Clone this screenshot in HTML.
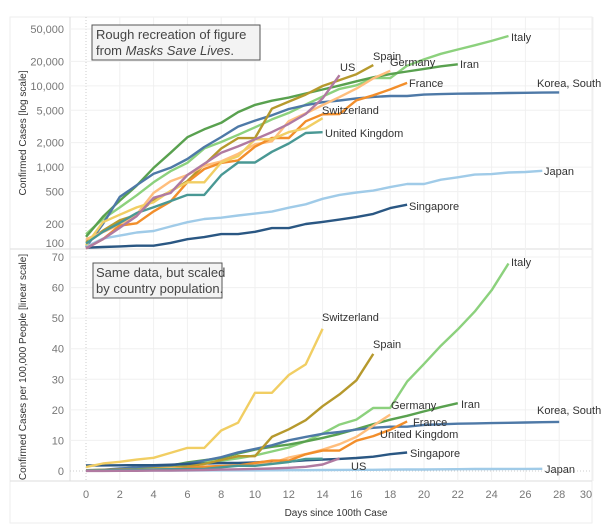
<!DOCTYPE html>
<html><head><meta charset="utf-8"><style>
html,body{margin:0;padding:0;background:#fff}
svg{display:block;font-family:"Liberation Sans",sans-serif}
</style></head><body>
<svg id="chart" width="610" height="526" viewBox="0 0 610 526">
<g id="frame">
<rect x="10" y="17" width="582" height="506" fill="#fff" stroke="#eee"/>
<line x1="10" y1="249" x2="592" y2="249" stroke="#ddd"/>
<line x1="70" y1="17" x2="70" y2="481" stroke="#ddd"/>
<line x1="10" y1="481" x2="592" y2="481" stroke="#ddd"/>
</g>
<g id="grid"></g>
<g id="lines"></g>
<g id="labels"></g>
<g id="ticks"></g>
<rect x="92" y="25" width="168" height="35" fill="#f3f3f3" stroke="#555"/>
<text x="96" y="39" font-size="13" fill="#444">Rough recreation of figure</text>
<text x="96" y="55" font-size="13" fill="#444">from <tspan font-style="italic">Masks Save Lives</tspan>.</text>
<rect x="93" y="263" width="129" height="35" fill="#f3f3f3" stroke="#555"/>
<text x="96" y="277" font-size="13" fill="#444">Same data, but scaled</text>
<text x="96" y="293" font-size="13" fill="#444">by country population.</text>
<text transform="translate(26,133) rotate(-90)" text-anchor="middle" font-size="10" fill="#333">Confirmed Cases [log scale]</text>
<text transform="translate(26,367) rotate(-90)" text-anchor="middle" font-size="10" fill="#333">Confirmed Cases per 100,000 People [linear scale]</text>
<text x="336" y="516" text-anchor="middle" font-size="10" fill="#333">Days since 100th Case</text>
</svg>
<script>
const countries=["Italy","Iran","Korea, South","Japan","Singapore","Spain","Germany","France","Switzerland","United Kingdom","US"];
const populationMillions=[60.4,83,51.7,126.5,5.7,46.9,83,67,8.6,66.6,327];
const casesItaly=[150,230,320,450,650,890,1130,1700,2040,2500,3090,3860,4640,5880,7380,9170,10150,12460,12460,17660,21160,24750,27980,31500,35700,41000];
const casesIran=[139,245,388,593,978,1501,2336,2922,3513,4747,5823,6566,7161,8042,9000,10075,11364,12729,13938,14991,16169,17361,18407];
const casesKorea=[104,200,430,600,830,980,1260,1770,2340,3150,3740,4340,5190,5770,6290,6600,7000,7300,7500,7500,7800,7900,8000,8050,8100,8150,8200,8250,8300];
const casesJapan=[105,132,144,157,164,186,210,230,239,254,268,284,317,349,408,455,488,514,568,620,620,700,750,810,820,860,870,900];
const casesSingapore=[102,104,106,108,108,117,130,138,150,150,160,178,178,200,212,226,243,266,313,345];
const casesSpain=[120,165,222,259,400,500,673,1073,1695,2277,2277,5232,6391,7798,9942,11748,13910,17963];
const casesGermany=[130,159,196,262,482,670,799,1040,1176,1457,1908,2078,3675,4585,5795,7272,9257,12327,15320];
const casesFrance=[100,130,191,204,285,377,653,949,1126,1209,1784,2281,2281,3661,4469,4499,6633,7652,9043,10871];
const casesSwitzerland=[110,210,260,320,370,510,650,650,1140,1360,2200,2200,2700,3000,4000];
const casesUK=[115,160,206,273,321,382,456,456,798,1140,1140,1543,1950,2626,2689];
const casesUS=[100,130,180,250,420,480,800,1100,1500,1800,2200,2700,3400,4500,7000,13500];
const logTicks=[50000,20000,10000,5000,2000,1000,500,200,100];
const linTicks=[0,10,20,30,40,50,60,70];
const dayTicks=[0,2,4,6,8,10,12,14,16,18,20,22,24,26,28,30];

const series=[casesItaly,casesIran,casesKorea,casesJapan,casesSingapore,casesSpain,casesGermany,casesFrance,casesSwitzerland,casesUK,casesUS];
const colors=["#8cd17d","#59a14f","#4e79a7","#a0cbe8","#2a5783","#b6992d","#ffbe7d","#f28e2b","#f1ce63","#499894","#b07aa1"];
const topLabelPos=[[511,37],[460,64],[537,83],[544,171],[409,206],[373,56],[390,62],[409,83],[322,110],[325,133],[340,67]];
const botLabelPos=[[511,262],[461,404],[537,410],[545,469],[410,453],[373,344],[391,405],[413,422],[322,317],[380,434],[351,466]];

const NS="http://www.w3.org/2000/svg";
const xS=d=>86+d*16.9;
const yLog=v=>29+(Math.log10(50000)-Math.log10(v))*81.3;
const yLin=v=>471-v*3.057;
function mk(tag,attrs,parent){const e=document.createElementNS(NS,tag);for(const k in attrs)e.setAttribute(k,attrs[k]);parent.appendChild(e);return e;}
const grid=document.getElementById('grid'),lines=document.getElementById('lines'),labels=document.getElementById('labels'),ticks=document.getElementById('ticks');

dayTicks.forEach(d=>{
  const x=xS(d);
  const g=mk('line',{x1:x,y1:17,x2:x,y2:481,stroke:d===0?'#ccc':'#f0f0f0','stroke-dasharray':d===0?'1,2':'none'},grid);
  
  
  const t=mk('text',{x:Math.min(x,586),y:498,'text-anchor':'middle','font-size':11,fill:'#777'},ticks);
  t.textContent=d;
  
  
});
logTicks.forEach(v=>{
  const y=yLog(v);
  if(v>100){const g=mk('line',{x1:70,y1:y,x2:592,y2:y,stroke:'#f0f0f0'},grid);
  
  }
  const t=mk('text',{x:64,y:(v===100?243:y)+4,'text-anchor':'end','font-size':11,fill:'#777'},ticks);
  t.textContent=v.toLocaleString('en-US');
  
  
});
linTicks.forEach(v=>{
  const y=yLin(v);
  const g=mk('line',{x1:70,y1:y,x2:592,y2:y,stroke:v===0?'#ccc':'#f0f0f0','stroke-dasharray':v===0?'1,2':'none'},grid);
  
  
  const t=mk('text',{x:64,y:(v===70?257:y)+4,'text-anchor':'end','font-size':11,fill:'#777'},ticks);
  t.textContent=v;
  
  
});
series.forEach((vals,i)=>{
  const top=vals.map((v,d)=>xS(d).toFixed(1)+','+yLog(Math.max(v,70)).toFixed(1)).join(' ');
  const p1=mk('polyline',{points:top,fill:'none',stroke:colors[i],'stroke-width':2.4,'stroke-linejoin':'round'},lines);
  
  
  const bot=vals.map((v,d)=>xS(d).toFixed(1)+','+yLin(v/(populationMillions[i]*10)).toFixed(1)).join(' ');
  const p2=mk('polyline',{points:bot,fill:'none',stroke:colors[i],'stroke-width':2.4,'stroke-linejoin':'round'},lines);
  
  
  const l1=mk('text',{x:topLabelPos[i][0],y:topLabelPos[i][1]+4,'font-size':11,fill:'#333'},labels);
  l1.textContent=countries[i];
  
  
  const l2=mk('text',{x:botLabelPos[i][0],y:botLabelPos[i][1]+4,'font-size':11,fill:'#333'},labels);
  l2.textContent=countries[i];
  
  
});
</script>
</body></html>
